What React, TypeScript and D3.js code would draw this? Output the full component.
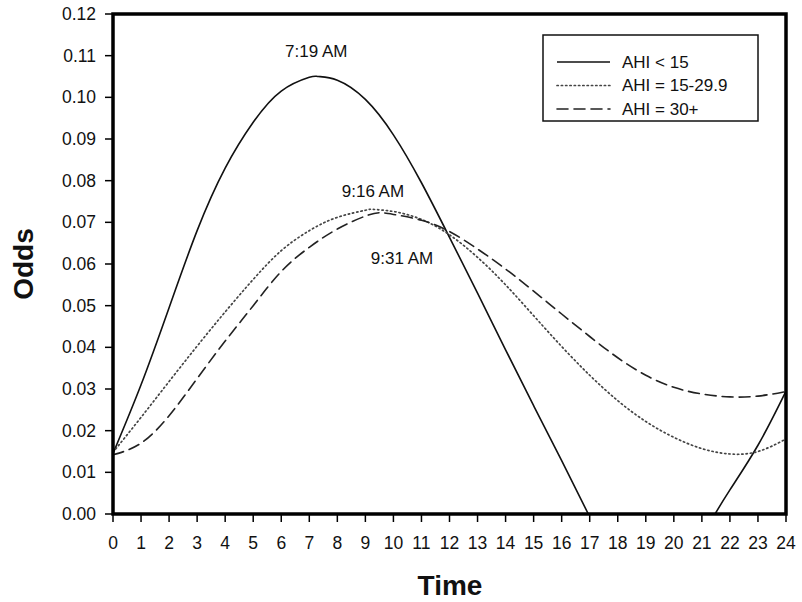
import React from "react";
import * as d3 from "d3";

// Hour of day (0-24) and modelled odds for each AHI group
const lowTimes = [0, 1, 2, 3, 4, 5, 6, 7, 7.32, 8, 9, 10, 11, 12, 13, 14, 15, 16, 16.95, 21.47, 22, 23, 24];
const lowOdds = [0.0145, 0.031, 0.0495, 0.068, 0.083, 0.094, 0.1015, 0.1048, 0.105, 0.1041, 0.0995, 0.091, 0.0795, 0.0664, 0.053, 0.0394, 0.026, 0.0128, 0, 0, 0.0058, 0.0165, 0.0295];

const midTimes = [0, 1, 2, 3, 4, 5, 6, 7, 8, 9, 9.27, 10, 11, 12, 13, 14, 15, 16, 17, 18, 19, 20, 21, 22, 23, 24];
const midOdds = [0.0148, 0.0232, 0.0318, 0.0403, 0.0485, 0.0563, 0.0632, 0.068, 0.0712, 0.0729, 0.0731, 0.0726, 0.0707, 0.067, 0.0616, 0.055, 0.0476, 0.0402, 0.0333, 0.0272, 0.0222, 0.0184, 0.0157, 0.0144, 0.015, 0.018];

const highTimes = [0, 1, 2, 3, 4, 5, 6, 7, 8, 9, 9.52, 10, 11, 12, 13, 14, 15, 16, 17, 18, 19, 20, 21, 22, 23, 24];
const highOdds = [0.0142, 0.017, 0.0236, 0.0325, 0.0415, 0.05, 0.0582, 0.064, 0.0684, 0.0715, 0.0723, 0.0719, 0.0705, 0.0678, 0.0636, 0.0588, 0.0535, 0.048, 0.0426, 0.0375, 0.0333, 0.0304, 0.0288, 0.0281, 0.0283, 0.0294];

const seriesNames = ["AHI < 15", "AHI = 15-29.9", "AHI = 30+"];
const peakLabels = ["7:19 AM", "9:16 AM", "9:31 AM"];
const xTicks = d3.range(0, 25);
const yTicks = d3.range(0, 0.1201, 0.01);

const W = 802;
const H = 602;
const FONT = "'Liberation Sans', Arial, Helvetica, sans-serif";

type Pt = [number, number];

// Splits a series so that runs lying on the zero floor are drawn straight
// and the rest is drawn as smooth splines.
function pieces(pts: Pt[]): { pts: Pt[]; flat: boolean }[] {
  const out: { pts: Pt[]; flat: boolean }[] = [];
  let cur: Pt[] = [pts[0]];
  for (let i = 1; i < pts.length; i++) {
    const prev = pts[i - 1];
    const p = pts[i];
    const flat = prev[1] === 0 && p[1] === 0;
    if (flat) {
      if (cur.length > 1) out.push({ pts: cur, flat: false });
      out.push({ pts: [prev, p], flat: true });
      cur = [p];
    } else {
      cur.push(p);
    }
  }
  if (cur.length > 1) out.push({ pts: cur, flat: false });
  return out;
}

export default function App() {
  const x = d3.scaleLinear().domain([0, 24]).range([113, 786]);
  const y = d3.scaleLinear().domain([0, 0.12]).range([514, 14]);

  const smooth = d3
    .line<Pt>()
    .x((d) => x(d[0]))
    .y((d) => y(d[1]))
    .curve(d3.curveNatural);
  const straight = d3
    .line<Pt>()
    .x((d) => x(d[0]))
    .y((d) => y(d[1]));

  const pathFor = (pts: Pt[]) =>
    pieces(pts)
      .map((pc) => (pc.flat ? straight(pc.pts) : smooth(pc.pts)) || "")
      .map((d, i) => (i === 0 ? d : d.replace(/^M/, "L")))
      .join("");

  const zip = (t: number[], v: number[]) => t.map((ti, i) => [ti, v[i]] as Pt);

  const series = [
    { name: seriesNames[0], pts: zip(lowTimes, lowOdds), dash: "none", width: 1.6, color: "#111" },
    { name: seriesNames[1], pts: zip(midTimes, midOdds), dash: "1.3 3", width: 1.7, color: "#444" },
    { name: seriesNames[2], pts: zip(highTimes, highOdds), dash: "11 6", width: 1.6, color: "#222" },
  ];

  const peak = (t: number[], v: number[]) => {
    const i = d3.maxIndex(v);
    return { px: x(t[i]), py: y(v[i]) };
  };
  const p0 = peak(lowTimes, lowOdds);
  const p1 = peak(midTimes, midOdds);
  const p2 = peak(highTimes, highOdds);

  return (
    <svg
      width={W}
      height={H}
      style={{ position: "fixed", left: 0, top: 0, background: "#fff" }}
      fontFamily={FONT}
    >
      <rect x={0} y={0} width={W} height={H} fill="#fff" />

      {/* curves */}
      <g fill="none" strokeLinejoin="round">
        {series.map((s) => (
          <path
            key={s.name}
            d={pathFor(s.pts)}
            stroke={s.color}
            strokeWidth={s.width}
            strokeDasharray={s.dash}
            strokeLinecap={s.dash === "none" ? "butt" : "round"}
          />
        ))}
      </g>

      {/* peak time annotations */}
      <g fontSize={17} fill="#111" textAnchor="middle">
        <text x={p0.px - 2} y={p0.py - 20}>{peakLabels[0]}</text>
        <text x={p1.px} y={p1.py - 12}>{peakLabels[1]}</text>
        <text x={p2.px + 22} y={p2.py + 51}>{peakLabels[2]}</text>
      </g>

      {/* plot frame */}
      <rect x={x(0)} y={y(0.12)} width={x(24) - x(0)} height={y(0) - y(0.12)} fill="none" stroke="#000" strokeWidth={3.5} />

      {/* y axis ticks and labels */}
      <g fontSize={17.5} fill="#111" textAnchor="end">
        {yTicks.map((v) => (
          <g key={v}>
            <line x1={x(0) - 8} x2={x(0)} y1={y(v)} y2={y(v)} stroke="#000" strokeWidth={1.5} />
            <text x={96} y={y(v)} dy="0.35em">{v.toFixed(2)}</text>
          </g>
        ))}
      </g>

      {/* x axis ticks and labels */}
      <g fontSize={17.5} fill="#111" textAnchor="middle">
        {xTicks.map((t) => (
          <g key={t}>
            <line x1={x(t)} x2={x(t)} y1={y(0)} y2={y(0) + 8} stroke="#000" strokeWidth={1.5} />
            <text x={x(t)} y={549}>{t}</text>
          </g>
        ))}
      </g>

      {/* axis titles */}
      <text x={450} y={595} fontSize={28} fontWeight="bold" textAnchor="middle" fill="#111">Time</text>
      <text
        transform="translate(33,264) rotate(-90)"
        fontSize={28}
        fontWeight="bold"
        textAnchor="middle"
        fill="#111"
      >
        Odds
      </text>

      {/* legend */}
      <g>
        <rect x={543} y={35} width={215} height={86} fill="#fff" stroke="#111" strokeWidth={1.5} />
        {series.map((s, i) => {
          const cy = 62 + i * 23.5;
          return (
            <g key={s.name}>
              <line
                x1={557}
                x2={610}
                y1={cy}
                y2={cy}
                stroke={s.color}
                strokeWidth={s.width}
                strokeDasharray={s.dash}
                strokeLinecap={s.dash === "none" ? "butt" : "round"}
              />
              <text x={622} y={cy} dy="0.35em" fontSize={17} fill="#111">{s.name}</text>
            </g>
          );
        })}
      </g>
    </svg>
  );
}
